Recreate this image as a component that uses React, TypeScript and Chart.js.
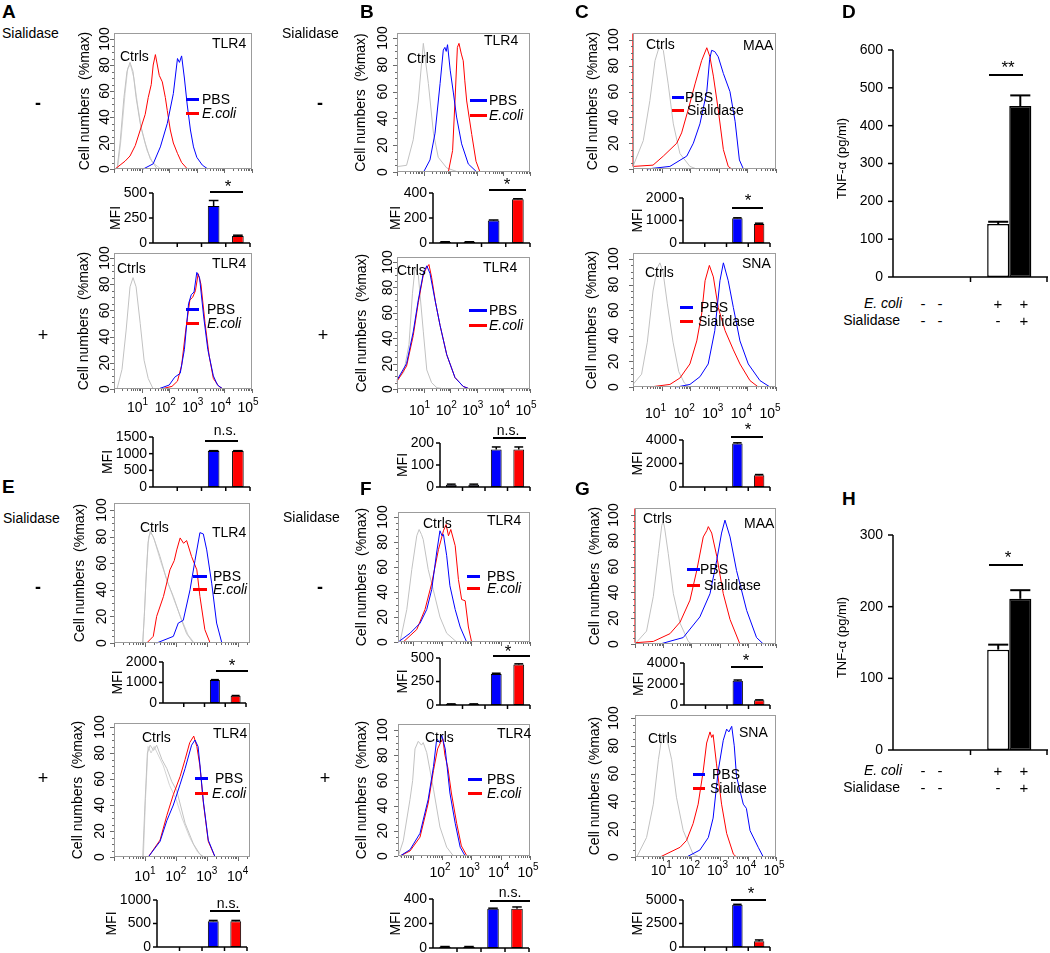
import React, { useEffect, useRef } from "react";
import { Chart, registerables } from "chart.js";

Chart.register(...registerables);

const FONT = '"Liberation Sans", Arial, Helvetica, sans-serif';
const BLUE = "#0000ff";
const RED = "#ff0000";
const GRAY = "#c2c2c2";
const GRAY2 = "#d4d4d4";
const CTRL_BAR = "#3c3c64";

// ================= DATA =================
// Histogram curves: [log10(fluorescence), % of max]
const HIST_Y_TICKS = [0, 20, 40, 60, 80, 100];
const DEC_1_5 = [1, 2, 3, 4, 5];
const DEC_1_4 = [1, 2, 3, 4];
const DEC_2_5 = [2, 3, 4, 5];

// A (TLR4), Sialidase -
const A_NEG_CTRL1 = [[0.11, 0], [0.22, 20], [0.36, 55], [0.47, 75], [0.58, 82], [0.69, 75], [0.8, 55], [0.95, 35], [1.13, 20], [1.31, 8], [1.57, 0]];
const A_NEG_CTRL2 = [[0.13, 0], [0.25, 22], [0.4, 58], [0.5, 78], [0.6, 80], [0.72, 70], [0.85, 50], [1.0, 30], [1.2, 14], [1.4, 5], [1.7, 0]];
const A_NEG_PBS = [[1.06, 0], [1.42, 4], [1.68, 17], [1.93, 35], [2.15, 58], [2.3, 85], [2.37, 82], [2.45, 87], [2.55, 70], [2.65, 50], [2.77, 30], [2.88, 17], [3.0, 9], [3.2, 3], [3.4, 0]];
const A_NEG_ECOLI = [[0.04, 0], [0.22, 3], [0.4, 6], [0.58, 10], [0.77, 18], [0.95, 30], [1.13, 42], [1.24, 55], [1.35, 65], [1.42, 80], [1.5, 88], [1.57, 80], [1.64, 72], [1.75, 67], [1.86, 55], [1.93, 45], [2.04, 30], [2.15, 20], [2.3, 12], [2.45, 5], [2.66, 0]];
// A, Sialidase +
const A_POS_CTRL = [[0.11, 0], [0.29, 15], [0.44, 45], [0.58, 78], [0.69, 85], [0.8, 78], [0.95, 50], [1.09, 22], [1.24, 8], [1.42, 0]];
const A_POS_PBS = [[1.6, 0], [2.0, 3], [2.2, 9], [2.4, 12], [2.55, 30], [2.7, 65], [2.8, 72], [2.9, 74], [3.0, 89], [3.1, 85], [3.25, 55], [3.4, 30], [3.6, 10], [3.75, 3], [3.95, 0]];
const A_POS_ECOLI = [[1.7, 0], [2.1, 2], [2.3, 6], [2.45, 18], [2.6, 45], [2.75, 68], [2.85, 70], [2.95, 75], [3.05, 88], [3.15, 80], [3.3, 50], [3.45, 25], [3.6, 8], [3.8, 2], [3.95, 0]];

// B (TLR4)
const B_NEG_CTRL = [[0, 4], [0.36, 5], [0.61, 24], [0.8, 53], [0.99, 96], [1.18, 66], [1.37, 29], [1.55, 11], [1.87, 3], [2.3, 0]];
const B_NEG_PBS = [[1.0, 0], [1.24, 9], [1.43, 29], [1.62, 66], [1.74, 91], [1.8, 93], [1.85, 90], [1.9, 95], [2.0, 76], [2.12, 59], [2.24, 41], [2.43, 21], [2.68, 6], [3.0, 0]];
const B_NEG_ECOLI = [[1.93, 0], [2.09, 16], [2.18, 53], [2.27, 93], [2.33, 96], [2.42, 88], [2.49, 83], [2.55, 68], [2.62, 53], [2.81, 28], [2.97, 8], [3.12, 0]];
const B_POS_CTRL = [[0, 7], [0.25, 13], [0.45, 35], [0.58, 75], [0.68, 96], [0.8, 90], [0.99, 45], [1.12, 15], [1.3, 5], [1.5, 1], [1.8, 0]];
const B_POS_PBS = [[0, 7], [0.36, 20], [0.61, 45], [0.8, 70], [0.99, 91], [1.12, 97], [1.24, 91], [1.43, 70], [1.62, 50], [1.87, 27], [2.18, 9], [2.49, 2], [2.74, 0]];
const B_POS_ECOLI = [[0, 6], [0.36, 18], [0.61, 42], [0.8, 68], [0.99, 90], [1.1, 95], [1.2, 98], [1.3, 88], [1.45, 68], [1.62, 50], [1.87, 27], [2.18, 9], [2.49, 2], [2.74, 0]];

// C (MAA / SNA)
const C_NEG_CTRL = [[0, 2], [0.36, 22], [0.59, 53], [0.77, 84], [0.92, 95], [1.06, 92], [1.23, 66], [1.41, 35], [1.64, 12], [1.99, 2], [2.23, 0]];
const C_NEG_PBS = [[0.48, 0], [1.29, 2], [1.88, 10], [2.11, 20], [2.34, 35], [2.58, 60], [2.68, 85], [2.75, 92], [2.86, 91], [2.98, 87], [3.16, 74], [3.39, 60], [3.57, 37], [3.72, 7], [3.86, 0]];
const C_NEG_SIAL = [[0, 105], [0.01, 2], [0.7, 3], [1.06, 10], [1.53, 20], [1.7, 28], [1.93, 46], [2.17, 66], [2.4, 84], [2.58, 94], [2.69, 87], [2.81, 72], [2.98, 46], [3.16, 15], [3.33, 2], [3.45, 0]];
const C_POS_CTRL = [[0, 2], [0.3, 10], [0.5, 35], [0.7, 75], [0.85, 93], [0.94, 97], [1.05, 90], [1.2, 65], [1.4, 35], [1.6, 12], [1.8, 3], [1.95, 0]];
const C_POS_PBS = [[1.53, 0], [1.99, 2], [2.34, 8], [2.63, 18], [2.86, 44], [3.04, 83], [3.16, 97], [3.33, 83], [3.51, 62], [3.74, 36], [4.03, 18], [4.44, 5], [4.79, 0]];
const C_POS_SIAL = [[0.59, 0], [1.29, 2], [1.64, 7], [1.99, 18], [2.23, 36], [2.4, 57], [2.52, 83], [2.67, 95], [2.81, 86], [2.98, 62], [3.22, 44], [3.51, 29], [3.74, 18], [4.09, 5], [4.38, 0]];

// E (TLR4)
const E_NEG_CTRL1 = [[0.93, 0], [0.98, 20], [1.03, 45], [1.1, 75], [1.17, 84], [1.27, 80], [1.49, 65], [1.71, 47], [1.92, 35], [2.14, 20], [2.35, 7], [2.57, 0]];
const E_NEG_CTRL2 = [[0.93, 0], [0.99, 25], [1.05, 55], [1.12, 80], [1.2, 83], [1.3, 78], [1.5, 62], [1.75, 45], [1.95, 32], [2.2, 17], [2.4, 6], [2.6, 0]];
const E_NEG_PBS = [[1.38, 0], [1.92, 5], [2.08, 15], [2.24, 17], [2.46, 40], [2.62, 62], [2.78, 83], [2.89, 82], [3.0, 70], [3.16, 45], [3.32, 15], [3.49, 0]];
const E_NEG_ECOLI = [[1.06, 0], [1.27, 5], [1.38, 20], [1.6, 35], [1.81, 55], [1.95, 62], [2.03, 70], [2.14, 79], [2.25, 75], [2.35, 77], [2.51, 65], [2.68, 55], [2.78, 35], [2.94, 10], [3.11, 0]];
const E_POS_CTRL1 = [[0.93, 0], [1.0, 40], [1.08, 80], [1.17, 86], [1.28, 82], [1.38, 86], [1.55, 75], [1.71, 68], [1.87, 58], [2.03, 51], [2.3, 26], [2.57, 10], [2.78, 2], [2.9, 0]];
const E_POS_CTRL2 = [[0.95, 0], [1.02, 45], [1.1, 85], [1.2, 80], [1.3, 85], [1.4, 80], [1.6, 70], [1.8, 55], [2.0, 45], [2.2, 30], [2.45, 15], [2.7, 4], [2.9, 0]];
const E_POS_PBS = [[1.11, 0], [1.49, 12], [1.71, 28], [1.92, 40], [2.14, 56], [2.3, 68], [2.51, 86], [2.62, 90], [2.72, 85], [2.78, 71], [2.89, 43], [3.05, 13], [3.27, 0]];
const E_POS_ECOLI = [[1.11, 0], [1.49, 13], [1.71, 32], [1.92, 48], [2.14, 62], [2.3, 75], [2.45, 88], [2.58, 93], [2.68, 85], [2.78, 70], [2.89, 42], [3.05, 12], [3.27, 0]];

// F (TLR4)
const F_NEG_CTRL = [[0.57, 0], [0.8, 26], [0.97, 58], [1.14, 85], [1.22, 90], [1.3, 86], [1.36, 82], [1.53, 58], [1.7, 42], [1.93, 20], [2.16, 7], [2.5, 0]];
const F_NEG_PBS = [[0.51, 0], [0.91, 7], [1.25, 15], [1.48, 26], [1.65, 42], [1.82, 72], [1.93, 89], [2.0, 85], [2.05, 86], [2.16, 69], [2.27, 45], [2.45, 26], [2.62, 12], [2.84, 0]];
const F_NEG_ECOLI = [[0.68, 0], [1.14, 10], [1.42, 26], [1.65, 47], [1.88, 74], [2.05, 89], [2.14, 94], [2.22, 85], [2.3, 90], [2.45, 77], [2.56, 50], [2.67, 34], [2.79, 33], [2.9, 12], [3.01, 0]];
const F_POS_CTRL = [[0.51, 0], [0.68, 12], [0.91, 45], [1.0, 60], [1.08, 85], [1.19, 91], [1.3, 88], [1.36, 90], [1.48, 82], [1.71, 53], [1.93, 23], [2.16, 7], [2.39, 0]];
const F_POS_PBS = [[0.57, 0], [0.91, 5], [1.25, 18], [1.53, 45], [1.71, 71], [1.82, 93], [1.92, 90], [1.99, 96], [2.11, 85], [2.27, 50], [2.45, 26], [2.62, 7], [2.79, 0]];
const F_POS_ECOLI = [[0.57, 0], [0.91, 4], [1.25, 15], [1.53, 42], [1.71, 68], [1.85, 85], [1.95, 90], [2.03, 93], [2.1, 80], [2.2, 70], [2.32, 50], [2.5, 26], [2.66, 8], [2.85, 0]];

// G (MAA / SNA)
const G_NEG_CTRL = [[0, 0], [0.41, 10], [0.65, 37], [0.83, 70], [0.95, 92], [1.0, 95], [1.05, 90], [1.18, 70], [1.36, 39], [1.6, 16], [1.89, 2], [2.0, 0]];
const G_NEG_PBS = [[0.89, 0], [1.71, 5], [2.3, 21], [2.66, 39], [2.9, 65], [3.07, 86], [3.19, 96], [3.37, 83], [3.6, 57], [3.96, 26], [4.31, 5], [4.55, 0]];
const G_NEG_SIAL = [[0, 105], [0.01, 1], [0.65, 2], [1.24, 8], [1.6, 17], [1.95, 34], [2.19, 57], [2.42, 83], [2.55, 88], [2.6, 91], [2.72, 86], [2.9, 68], [3.13, 39], [3.37, 19], [3.72, 0]];
const G_POS_CTRL = [[0.06, 0], [0.41, 14], [0.65, 38], [0.83, 70], [0.95, 86], [1.0, 89], [1.12, 86], [1.3, 70], [1.47, 43], [1.71, 19], [2.06, 2], [2.3, 0]];
const G_POS_PBS = [[1.83, 0], [2.3, 5], [2.6, 14], [2.77, 28], [2.95, 62], [3.13, 84], [3.25, 92], [3.33, 90], [3.43, 94], [3.52, 80], [3.6, 58], [3.84, 38], [3.95, 35], [4.08, 19], [4.37, 7], [4.55, 0]];
const G_POS_SIAL = [[0.89, 0], [1.6, 7], [1.83, 12], [2.06, 24], [2.24, 38], [2.42, 62], [2.54, 82], [2.66, 90], [2.72, 86], [2.77, 88], [2.89, 67], [3.07, 38], [3.25, 17], [3.49, 2], [3.6, 0]];

// MFI bar charts: [ctrl, ctrl, PBS, treated]
const MFI_GROUPS = ["Ctrl", "Ctrl", "PBS", "Treated"];
const MFI_A_NEG = [null, null, 370, 70];
const MFI_A_NEG_ERR = [0, 0, 55, 8];
const MFI_A_POS = [null, null, 1080, 1080];
const MFI_A_POS_ERR = [0, 0, 10, 10];
const MFI_B_NEG = [8, 8, 180, 350];
const MFI_B_NEG_ERR = [2, 2, 4, 4];
const MFI_B_POS = [10, 10, 170, 170];
const MFI_B_POS_ERR = [3, 3, 12, 12];
const MFI_C_NEG = [null, null, 1100, 850];
const MFI_C_NEG_ERR = [0, 0, 20, 30];
const MFI_C_POS = [null, null, 3700, 1000];
const MFI_C_POS_ERR = [0, 0, 60, 60];
const MFI_E_NEG = [null, null, 1120, 350];
const MFI_E_NEG_ERR = [0, 0, 20, 15];
const MFI_E_POS = [null, null, 550, 550];
const MFI_E_POS_ERR = [0, 0, 15, 15];
const MFI_F_NEG = [10, 10, 330, 430];
const MFI_F_NEG_ERR = [2, 2, 8, 8];
const MFI_F_POS = [10, 10, 320, 320];
const MFI_F_POS_ERR = [2, 2, 5, 15];
const MFI_G_NEG = [null, null, 2300, 450];
const MFI_G_NEG_ERR = [0, 0, 80, 40];
const MFI_G_POS = [null, null, 4500, 600];
const MFI_G_POS_ERR = [0, 0, 40, 150];

const MFI_TICKS_A_NEG = [0, 250, 500];
const MFI_TICKS_A_POS = [0, 500, 1000, 1500];
const MFI_TICKS_B_NEG = [0, 200, 400];
const MFI_TICKS_B_POS = [0, 100, 200];
const MFI_TICKS_C_NEG = [0, 1000, 2000];
const MFI_TICKS_C_POS = [0, 2000, 4000];
const MFI_TICKS_E_NEG = [0, 1000, 2000];
const MFI_TICKS_E_POS = [0, 500, 1000];
const MFI_TICKS_F_NEG = [0, 250, 500];
const MFI_TICKS_F_POS = [0, 200, 400];
const MFI_TICKS_G_NEG = [0, 2000, 4000];
const MFI_TICKS_G_POS = [0, 2500, 5000];

// TNF-alpha (D, H)
const TNF_GROUPS = ["E. coli - / Sialidase -", "E. coli +"];
const D_ECOLI = [null, 140];
const D_ECOLI_ERR = [0, 6];
const D_ECOLI_SIAL = [null, 452];
const D_ECOLI_SIAL_ERR = [0, 28];
const D_TICKS = [0, 100, 200, 300, 400, 500, 600];
const H_ECOLI = [null, 140];
const H_ECOLI_ERR = [0, 7];
const H_ECOLI_SIAL = [null, 211];
const H_ECOLI_SIAL_ERR = [0, 12];
const H_TICKS = [0, 100, 200, 300];

// ================= LAYOUT =================
const HISTS = [
  { L: 114, T: 33, R: 252, B: 169, y100: 39, xMin: 0, xMax: 5, xLabels: [], tickOff: -9, titleOff: -29,
    curves: [{ pts: A_NEG_PBS, color: BLUE }, { pts: A_NEG_ECOLI, color: RED }, { pts: A_NEG_CTRL1, color: GRAY }, { pts: A_NEG_CTRL2, color: GRAY2 }],
    tag: ["TLR4", 212, 43], ctrls: [120, 56], leg: { x1: 186, x2: 199, tx: [202, 202], y: [99, 113], names: ["PBS", "E.coli"] } },
  { L: 114, T: 253, R: 252, B: 389, y100: 258, xMin: 0, xMax: 5, xLabels: DEC_1_5, labShift: -4, labDy: 19, tickOff: -9, titleOff: -30,
    curves: [{ pts: A_POS_PBS, color: BLUE }, { pts: A_POS_ECOLI, color: RED }, { pts: A_POS_CTRL, color: GRAY }],
    tag: ["TLR4", 212, 263], ctrls: [117, 268], leg: { x1: 186, x2: 199, tx: [207, 207], y: [309, 323], names: ["PBS", "E.coli"] } },
  { L: 397, T: 33, R: 530, B: 172, y100: 38, xMin: 0, xMax: 5, xLabels: [], tickOff: -14, titleOff: -36,
    curves: [{ pts: B_NEG_PBS, color: BLUE }, { pts: B_NEG_ECOLI, color: RED }, { pts: B_NEG_CTRL, color: GRAY }],
    tag: ["TLR4", 484, 40], ctrls: [407, 58], leg: { x1: 470, x2: 487, tx: [489, 489], y: [100, 115], names: ["PBS", "E.coli"] } },
  { L: 397, T: 257, R: 530, B: 389, y100: 262, xMin: 0, xMax: 5, xLabels: DEC_1_5, labShift: -4, labDy: 22, tickOff: -9, titleOff: -35,
    curves: [{ pts: B_POS_PBS, color: BLUE }, { pts: B_POS_ECOLI, color: RED }, { pts: B_POS_CTRL, color: GRAY }],
    tag: ["TLR4", 483, 267], ctrls: [397, 270], leg: { x1: 469, x2: 487, tx: [489, 489], y: [310, 325], names: ["PBS", "E.coli"] } },
  { L: 633, T: 33, R: 776, B: 169, y100: 40, xMin: 0, xMax: 5, xLabels: [], tickOff: -19, titleOff: -40,
    curves: [{ pts: C_NEG_PBS, color: BLUE }, { pts: C_NEG_SIAL, color: RED }, { pts: C_NEG_CTRL, color: GRAY }],
    tag: ["MAA", 743, 45], ctrls: [646, 44], leg: { x1: 672, x2: 684, tx: [685, 687], y: [97, 110], names: ["PBS", "Sialidase"] } },
  { L: 633, T: 253, R: 776, B: 387, y100: 259, xMin: 0, xMax: 5, xLabels: DEC_1_5, labShift: -6, labDy: 27, tickOff: -19, titleOff: -41,
    curves: [{ pts: C_POS_PBS, color: BLUE }, { pts: C_POS_SIAL, color: RED }, { pts: C_POS_CTRL, color: GRAY }],
    tag: ["SNA", 742, 263], ctrls: [645, 272], leg: { x1: 680, x2: 693, tx: [700, 698], y: [307, 321], names: ["PBS", "Sialidase"] } },
  { L: 114, T: 503, R: 250, B: 643, y100: 510, xMin: 0, xMax: 4.4, xLabels: [], tickOff: -12, titleOff: -34,
    curves: [{ pts: E_NEG_PBS, color: BLUE }, { pts: E_NEG_ECOLI, color: RED }, { pts: E_NEG_CTRL1, color: GRAY }, { pts: E_NEG_CTRL2, color: GRAY2 }],
    tag: ["TLR4", 212, 532], ctrls: [140, 527], leg: { x1: 193, x2: 207, tx: [213, 213], y: [576, 589], names: ["PBS", "E.coli"] } },
  { L: 114, T: 723, R: 250, B: 857, y100: 727, xMin: 0, xMax: 4.4, xLabels: DEC_1_4, labShift: 0, labDy: 20, tickOff: -14, titleOff: -36,
    curves: [{ pts: E_POS_PBS, color: BLUE }, { pts: E_POS_ECOLI, color: RED }, { pts: E_POS_CTRL1, color: GRAY }, { pts: E_POS_CTRL2, color: GRAY2 }],
    tag: ["TLR4", 213, 733], ctrls: [142, 737], leg: { x1: 195, x2: 208, tx: [215, 212], y: [778, 793], names: ["PBS", "E.coli"] } },
  { L: 398, T: 512, R: 530, B: 642, y100: 517, xMin: 0.5, xMax: 5, xLabels: [], tickOff: -15, titleOff: -36,
    curves: [{ pts: F_NEG_PBS, color: BLUE }, { pts: F_NEG_ECOLI, color: RED }, { pts: F_NEG_CTRL, color: GRAY }],
    tag: ["TLR4", 487, 520], ctrls: [423, 523], leg: { x1: 467, x2: 480, tx: [487, 487], y: [576, 588], names: ["PBS", "E.coli"] } },
  { L: 398, T: 724, R: 530, B: 856, y100: 730, xMin: 0.5, xMax: 5, xLabels: DEC_2_5, labShift: -2, labDy: 17, tickOff: -15, titleOff: -36,
    curves: [{ pts: F_POS_PBS, color: BLUE }, { pts: F_POS_ECOLI, color: RED }, { pts: F_POS_CTRL, color: GRAY }],
    tag: ["TLR4", 497, 733], ctrls: [425, 737], leg: { x1: 468, x2: 482, tx: [487, 487], y: [779, 793], names: ["PBS", "E.coli"] } },
  { L: 635, T: 508, R: 776, B: 644, y100: 515, xMin: 0, xMax: 5, xLabels: [], tickOff: -21, titleOff: -40,
    curves: [{ pts: G_NEG_PBS, color: BLUE }, { pts: G_NEG_SIAL, color: RED }, { pts: G_NEG_CTRL, color: GRAY }],
    tag: ["MAA", 744, 523], ctrls: [643, 518], leg: { x1: 687, x2: 700, tx: [700, 704], y: [569, 585], names: ["PBS", "Sialidase"] } },
  { L: 635, T: 715, R: 776, B: 857, y100: 718, xMin: 0, xMax: 5, xLabels: DEC_1_5, labShift: -2, labDy: 14, tickOff: -21, titleOff: -40,
    curves: [{ pts: G_POS_PBS, color: BLUE }, { pts: G_POS_SIAL, color: RED }, { pts: G_POS_CTRL, color: GRAY }],
    tag: ["SNA", 739, 732], ctrls: [648, 738], leg: { x1: 693, x2: 705, tx: [712, 710], y: [774, 788], names: ["PBS", "Sialidase"] } },
];

const C4 = [CTRL_BAR, CTRL_BAR, BLUE, RED];
const MFIS = [
  { ax: 153, ar: 250, y0: 243, yTop: 193, ticks: MFI_TICKS_A_NEG, vals: MFI_A_NEG, errs: MFI_A_NEG_ERR, sig: ["*", 228, 186, 210, 243, 192] },
  { ax: 153, ar: 250, y0: 487, yTop: 437, ticks: MFI_TICKS_A_POS, vals: MFI_A_POS, errs: MFI_A_POS_ERR, sig: ["n.s.", 225, 430, 205, 238, 441] },
  { ax: 433, ar: 530, y0: 243, yTop: 193, ticks: MFI_TICKS_B_NEG, vals: MFI_B_NEG, errs: MFI_B_NEG_ERR, sig: ["*", 507, 184, 489, 526, 190] },
  { ax: 440, ar: 530, y0: 487, yTop: 443, ticks: MFI_TICKS_B_POS, vals: MFI_B_POS, errs: MFI_B_POS_ERR, sig: ["n.s.", 508, 430, 493, 526, 438] },
  { ax: 683, ar: 770, y0: 243, yTop: 198, ticks: MFI_TICKS_C_NEG, vals: MFI_C_NEG, errs: MFI_C_NEG_ERR, sig: ["*", 748, 200, 732, 763, 208] },
  { ax: 683, ar: 770, y0: 487, yTop: 440, ticks: MFI_TICKS_C_POS, vals: MFI_C_POS, errs: MFI_C_POS_ERR, sig: ["*", 748, 429, 731, 763, 437] },
  { ax: 163, ar: 246, y0: 703, yTop: 662, ticks: MFI_TICKS_E_NEG, vals: MFI_E_NEG, errs: MFI_E_NEG_ERR, sig: ["*", 232, 665, 216, 248, 671] },
  { ax: 157, ar: 247, y0: 947, yTop: 900, ticks: MFI_TICKS_E_POS, vals: MFI_E_POS, errs: MFI_E_POS_ERR, sig: ["n.s.", 228, 903, 210, 240, 911] },
  { ax: 440, ar: 530, y0: 705, yTop: 658, ticks: MFI_TICKS_F_NEG, vals: MFI_F_NEG, errs: MFI_F_NEG_ERR, sig: ["*", 508, 651, 493, 530, 656] },
  { ax: 433, ar: 529, y0: 948, yTop: 899, ticks: MFI_TICKS_F_POS, vals: MFI_F_POS, errs: MFI_F_POS_ERR, sig: ["n.s.", 510, 892, 490, 530, 901] },
  { ax: 684, ar: 770, y0: 705, yTop: 663, ticks: MFI_TICKS_G_NEG, vals: MFI_G_NEG, errs: MFI_G_NEG_ERR, sig: ["*", 746, 660, 731, 763, 667] },
  { ax: 683, ar: 770, y0: 947, yTop: 900, ticks: MFI_TICKS_G_POS, vals: MFI_G_POS, errs: MFI_G_POS_ERR, sig: ["*", 751, 893, 731, 766, 900] },
];

const TNFS = [
  { ax: 893, ar: 1048, y0: 277, yTop: 50, ticks: D_TICKS, a: D_ECOLI, ae: D_ECOLI_ERR, b: D_ECOLI_SIAL, be: D_ECOLI_SIAL_ERR,
    sig: ["**", 1008, 67, 989, 1023, 75], rows: [303, 320] },
  { ax: 893, ar: 1048, y0: 750, yTop: 535, ticks: H_TICKS, a: H_ECOLI, ae: H_ECOLI_ERR, b: H_ECOLI_SIAL, be: H_ECOLI_SIAL_ERR,
    sig: ["*", 1008, 557, 989, 1023, 565], rows: [770, 787] },
];

const TNF_ROW_SIGNS = [["-", "-", "+", "+"], ["-", "-", "-", "+"]];
const TNF_SIGN_X = [923, 940, 998, 1024];

// ================= HELPERS =================
function seg(ctx, x1, y1, x2, y2) {
  ctx.beginPath();
  ctx.moveTo(x1, y1);
  ctx.lineTo(x2, y2);
  ctx.stroke();
}

function CanvasChart({ left, top, width, height, make }) {
  const ref = useRef(null);
  useEffect(() => {
    const ch = make(ref.current);
    return () => ch.destroy();
  }, []);
  return <canvas ref={ref} width={width} height={height} style={{ position: "absolute", left, top, width, height }} />;
}

function Txt({ x, y, t, size = 14, bold = false, italic = false, align = "left" }) {
  const tx = align === "center" ? "-50%" : align === "right" ? "-100%" : "0";
  return (
    <div style={{ position: "absolute", left: x, top: y, transform: `translate(${tx}, -50%)`, font: `${italic ? "italic " : ""}${bold ? "bold " : ""}${size}px ${FONT}`, lineHeight: 1, whiteSpace: "nowrap", color: "#000" }}>{t}</div>
  );
}

function HLine({ x1, x2, y, color = "#000", w = 1.5 }) {
  return <div style={{ position: "absolute", left: x1, top: y - w / 2, width: x2 - x1, height: w, background: color }} />;
}

const baseOpts = (pad) => ({
  animation: false,
  responsive: false,
  events: [],
  layout: { padding: pad },
  plugins: { legend: { display: false }, tooltip: { enabled: false }, title: { display: false } },
});

// ---------- Histogram ----------
const HP = { left: 50, top: 14, right: 16, bottom: 36 };
function histPlugin(s) {
  return {
    id: "histAxes",
    afterDraw(chart) {
      const { ctx, chartArea: a } = chart;
      const xs = chart.scales.x, ys = chart.scales.y;
      ctx.save();
      ctx.lineWidth = 1;
      ctx.strokeStyle = "#9c9c9c";
      ctx.strokeRect(a.left + 0.5, a.top + 0.5, a.right - a.left - 1, a.bottom - a.top - 1);
      ctx.strokeStyle = "#6a6a6a";
      for (let v = 0; v <= 100; v += 5) {
        const py = Math.round(ys.getPixelForValue(v)) + 0.5;
        seg(ctx, a.left - (v % 20 === 0 ? 4 : 2), py, a.left, py);
      }
      for (let d = Math.floor(s.xMin); d <= Math.floor(s.xMax); d++) {
        for (let k = 1; k < 10; k++) {
          const v = d + Math.log10(k);
          if (v < s.xMin - 1e-6 || v > s.xMax + 1e-6) continue;
          const px = Math.round(xs.getPixelForValue(v)) + 0.5;
          seg(ctx, px, a.bottom, px, a.bottom + (k === 1 ? 4 : 2));
        }
      }
      ctx.fillStyle = "#000";
      ctx.textAlign = "center";
      ctx.textBaseline = "middle";
      ctx.font = `14px ${FONT}`;
      for (const v of HIST_Y_TICKS) {
        ctx.save();
        ctx.translate(a.left + s.tickOff, ys.getPixelForValue(v));
        ctx.rotate(-Math.PI / 2);
        ctx.fillText(String(v), 0, 0);
        ctx.restore();
      }
      ctx.save();
      ctx.translate(a.left + s.titleOff, (a.top + a.bottom) / 2);
      ctx.rotate(-Math.PI / 2);
      ctx.fillText("Cell numbers  (%max)", 0, 0);
      ctx.restore();
      ctx.textAlign = "left";
      for (const n of s.xLabels) {
        const px = xs.getPixelForValue(n) + (s.labShift || 0);
        ctx.font = `14px ${FONT}`;
        const bw = ctx.measureText("10").width;
        ctx.font = `10px ${FONT}`;
        const sw = ctx.measureText(String(n)).width;
        const x0 = px - (bw + sw) / 2;
        const yy = a.bottom + s.labDy;
        ctx.font = `14px ${FONT}`;
        ctx.fillText("10", x0, yy);
        ctx.font = `10px ${FONT}`;
        ctx.fillText(String(n), x0 + bw, yy - 6);
      }
      ctx.restore();
    },
  };
}

function Histogram({ s }) {
  const w = s.R - s.L, h = s.B - s.T;
  const yMax = (100 * h) / (s.B - s.y100);
  const make = (cv) =>
    new Chart(cv, {
      type: "line",
      data: {
        datasets: s.curves.map((c) => ({
          data: c.pts.map(([x, y]) => ({ x, y })),
          borderColor: c.color,
          borderWidth: 1,
          pointRadius: 0,
          tension: 0,
          fill: false,
          clip: 1,
        })),
      },
      options: {
        ...baseOpts(HP),
        scales: {
          x: { type: "linear", display: false, min: s.xMin, max: s.xMax },
          y: { type: "linear", display: false, min: 0, max: yMax },
        },
      },
      plugins: [histPlugin(s)],
    });
  const lg = s.leg;
  return (
    <>
      <CanvasChart left={s.L - HP.left} top={s.T - HP.top} width={w + HP.left + HP.right} height={h + HP.top + HP.bottom} make={make} />
      <Txt x={s.tag[1]} y={s.tag[2]} t={s.tag[0]} />
      <Txt x={s.ctrls[0]} y={s.ctrls[1]} t="Ctrls" />
      <HLine x1={lg.x1} x2={lg.x2} y={lg.y[0]} color={BLUE} w={3} />
      <HLine x1={lg.x1} x2={lg.x2} y={lg.y[1]} color={RED} w={3} />
      <Txt x={lg.tx[0]} y={lg.y[0]} t={lg.names[0]} />
      <Txt x={lg.tx[1]} y={lg.y[1]} t={lg.names[1]} italic={lg.names[1] === "E.coli"} />
    </>
  );
}

// ---------- MFI bars ----------
const MP = { left: 75, top: 9, right: 6, bottom: 8 };
function errorBars(chart, dsIndex, vals, errs, lw) {
  const { ctx } = chart;
  const ys = chart.scales.y;
  const meta = chart.getDatasetMeta(dsIndex);
  ctx.save();
  ctx.strokeStyle = "#000";
  ctx.lineWidth = lw;
  meta.data.forEach((bar, i) => {
    const v = vals[i], e = errs[i];
    if (v == null || !e) return;
    const top = ys.getPixelForValue(v + e);
    const hw = bar.width / 2 - 1;
    seg(ctx, bar.x, bar.y, bar.x, top);
    seg(ctx, bar.x - hw, top, bar.x + hw, top);
  });
  ctx.restore();
}

function mfiPlugin(s) {
  return {
    id: "mfiAxes",
    afterDraw(chart) {
      const { ctx, chartArea: a } = chart;
      const xs = chart.scales.x, ys = chart.scales.y;
      errorBars(chart, 0, s.vals, s.errs, 1.5);
      ctx.save();
      ctx.strokeStyle = "#000";
      ctx.lineWidth = 1.5;
      seg(ctx, a.left, a.top, a.left, a.bottom);
      seg(ctx, a.left, a.bottom, a.right, a.bottom);
      const n = MFI_GROUPS.length;
      for (let i = 1; i <= n; i++) {
        const px = i < n ? (xs.getPixelForValue(i - 1) + xs.getPixelForValue(i)) / 2 : a.right;
        seg(ctx, px, a.bottom, px, a.bottom + 4);
      }
      ctx.fillStyle = "#000";
      ctx.font = `14px ${FONT}`;
      ctx.textAlign = "right";
      ctx.textBaseline = "middle";
      let maxW = 0;
      for (const t of s.ticks) {
        const py = ys.getPixelForValue(t);
        seg(ctx, a.left - 4, py, a.left, py);
        ctx.fillText(String(t), a.left - 6, py);
        maxW = Math.max(maxW, ctx.measureText(String(t)).width);
      }
      ctx.textAlign = "center";
      ctx.save();
      ctx.translate(a.left - 6 - maxW - 8, (a.top + a.bottom) / 2);
      ctx.rotate(-Math.PI / 2);
      ctx.fillText("MFI", 0, 0);
      ctx.restore();
      ctx.restore();
    },
  };
}

function MfiBars({ s }) {
  const w = s.ar - s.ax, h = s.y0 - s.yTop;
  const make = (cv) =>
    new Chart(cv, {
      type: "bar",
      data: {
        labels: MFI_GROUPS,
        datasets: [{ data: s.vals, backgroundColor: C4, borderColor: "#000", borderWidth: 1, borderSkipped: false, barPercentage: 0.48, categoryPercentage: 1 }],
      },
      options: {
        ...baseOpts(MP),
        scales: {
          x: { display: false },
          y: { display: false, min: 0, max: s.ticks[s.ticks.length - 1] },
        },
      },
      plugins: [mfiPlugin(s)],
    });
  const g = s.sig;
  return (
    <>
      <CanvasChart left={s.ax - MP.left} top={s.yTop - MP.top} width={w + MP.left + MP.right} height={h + MP.top + MP.bottom} make={make} />
      <Txt x={g[1]} y={g[2]} t={g[0]} size={g[0] === "*" ? 17 : 14} align="center" />
      <HLine x1={g[3]} x2={g[4]} y={g[5]} />
    </>
  );
}

// ---------- TNF bars ----------
const TP = { left: 80, top: 9, right: 2, bottom: 8 };
function tnfPlugin(s) {
  return {
    id: "tnfAxes",
    afterDraw(chart) {
      const { ctx, chartArea: a } = chart;
      const xs = chart.scales.x, ys = chart.scales.y;
      errorBars(chart, 0, s.a, s.ae, 2);
      errorBars(chart, 1, s.b, s.be, 2);
      ctx.save();
      ctx.strokeStyle = "#000";
      ctx.lineWidth = 1.5;
      seg(ctx, a.left, a.top, a.left, a.bottom);
      seg(ctx, a.left, a.bottom, a.right, a.bottom);
      const n = TNF_GROUPS.length;
      for (let i = 1; i <= n; i++) {
        const px = i < n ? (xs.getPixelForValue(i - 1) + xs.getPixelForValue(i)) / 2 : a.right - 1;
        seg(ctx, px, a.bottom, px, a.bottom + 5);
      }
      ctx.fillStyle = "#000";
      ctx.font = `14px ${FONT}`;
      ctx.textAlign = "right";
      ctx.textBaseline = "middle";
      for (const t of s.ticks) {
        const py = ys.getPixelForValue(t);
        seg(ctx, a.left - 5, py, a.left, py);
        ctx.fillText(String(t), a.left - 10, py);
      }
      ctx.textAlign = "center";
      ctx.font = `13px ${FONT}`;
      ctx.save();
      ctx.translate(a.left - 51, (a.top + a.bottom) / 2 - 5);
      ctx.rotate(-Math.PI / 2);
      ctx.fillText("TNF-\u03b1 (pg/ml)", 0, 0);
      ctx.restore();
      ctx.restore();
    },
  };
}

function TnfBars({ s }) {
  const w = s.ar - s.ax, h = s.y0 - s.yTop;
  const make = (cv) =>
    new Chart(cv, {
      type: "bar",
      data: {
        labels: TNF_GROUPS,
        datasets: [
          { label: "E. coli", data: s.a, backgroundColor: "#ffffff", borderColor: "#000", borderWidth: 1.5, borderSkipped: false, barPercentage: 1, categoryPercentage: 0.57 },
          { label: "E. coli + Sialidase", data: s.b, backgroundColor: "#000000", borderColor: "#000", borderWidth: 1.5, borderSkipped: false, barPercentage: 1, categoryPercentage: 0.57 },
        ],
      },
      options: {
        ...baseOpts(TP),
        scales: {
          x: { display: false },
          y: { display: false, min: 0, max: s.ticks[s.ticks.length - 1] },
        },
      },
      plugins: [tnfPlugin(s)],
    });
  const g = s.sig;
  return (
    <>
      <CanvasChart left={s.ax - TP.left} top={s.yTop - TP.top} width={w + TP.left + TP.right} height={h + TP.top + TP.bottom} make={make} />
      <Txt x={g[1]} y={g[2]} t={g[0]} size={17} align="center" />
      <HLine x1={g[3]} x2={g[4]} y={g[5]} />
      <Txt x={902} y={s.rows[0]} t="E. coli" italic align="right" />
      <Txt x={900} y={s.rows[1]} t="Sialidase" align="right" />
      {TNF_ROW_SIGNS.map((row, r) =>
        row.map((sg, i) => <Txt key={`${r}-${i}`} x={TNF_SIGN_X[i]} y={s.rows[r]} t={sg} size={15} align="center" />)
      )}
    </>
  );
}

// ================= APP =================
const LETTERS = [["A", 2, 11], ["B", 360, 11], ["C", 575, 11], ["D", 842, 11], ["E", 2, 486], ["F", 360, 488], ["G", 575, 488], ["H", 842, 498]];
const ROW_TEXT = [
  ["Sialidase", 2, 33], ["Sialidase", 282, 33], ["Sialidase", 3, 518], ["Sialidase", 283, 517],
];
const ROW_SIGNS = [["-", 38, 103], ["-", 320, 103], ["-", 38, 587], ["-", 320, 587], ["+", 43, 335], ["+", 323, 335], ["+", 43, 778], ["+", 325, 778]];

export default function App() {
  return (
    <div style={{ position: "absolute", left: 0, top: 0, width: 1050, height: 953, background: "#fff", overflow: "hidden" }}>
      {HISTS.map((s, i) => <Histogram key={"h" + i} s={s} />)}
      {MFIS.map((s, i) => <MfiBars key={"m" + i} s={s} />)}
      {TNFS.map((s, i) => <TnfBars key={"t" + i} s={s} />)}
      {LETTERS.map(([t, x, y]) => <Txt key={"L" + t} x={x} y={y} t={t} size={19} bold />)}
      {ROW_TEXT.map(([t, x, y], i) => <Txt key={"r" + i} x={x} y={y} t={t} />)}
      {ROW_SIGNS.map(([t, x, y], i) => <Txt key={"s" + i} x={x} y={y} t={t} size={18} bold={t === "-"} align="center" />)}
    </div>
  );
}
